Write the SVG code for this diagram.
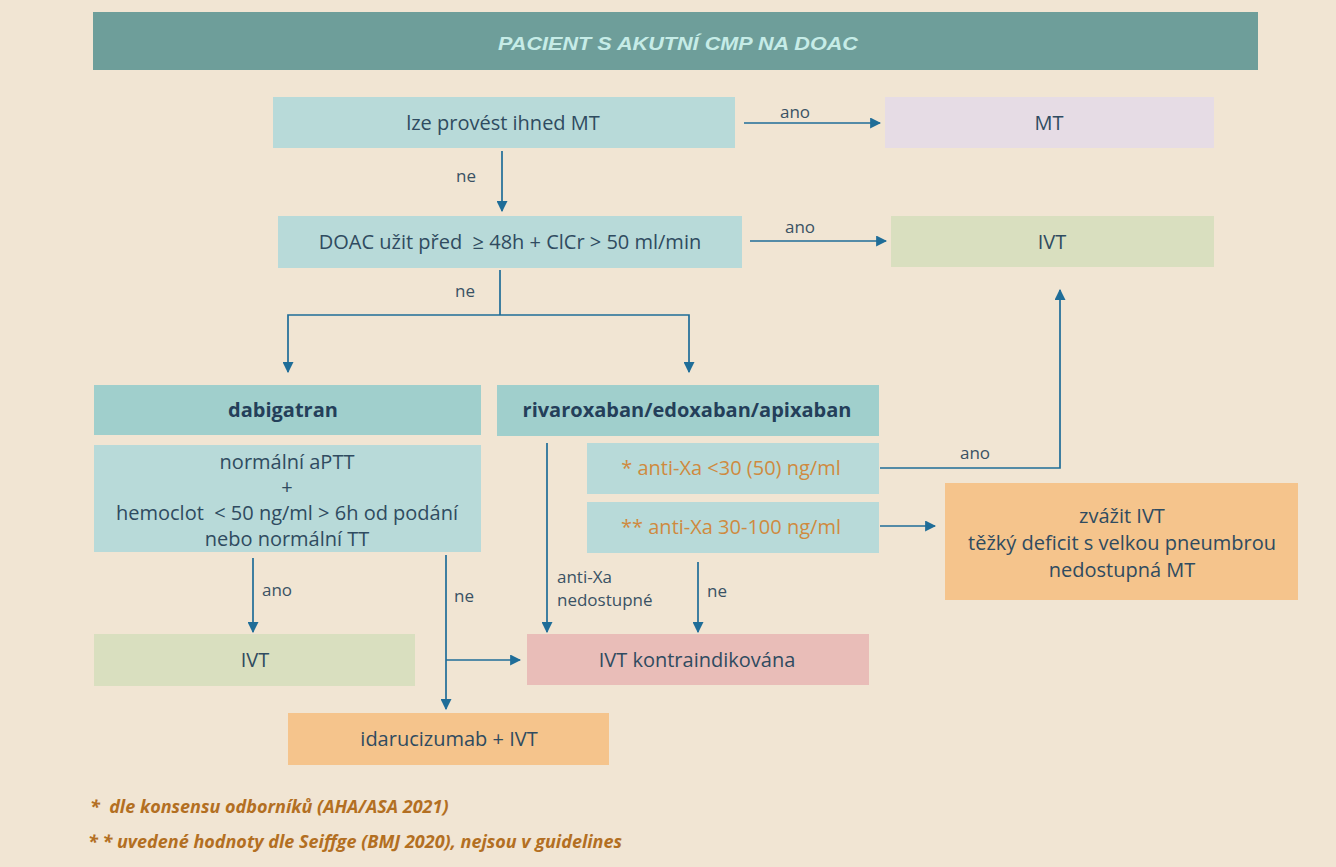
<svg xmlns="http://www.w3.org/2000/svg" width="1336" height="867" viewBox="0 0 1336 867">
<defs>
<marker id="ah" viewBox="0 0 10 10" refX="9" refY="5" markerWidth="11" markerHeight="11" markerUnits="userSpaceOnUse" orient="auto">
<path d="M0,0 L10,5 L0,10 z" fill="#1f6d98"/>
</marker>
</defs>
<style>
.t{font-family:"Open Sans","Liberation Sans",sans-serif;font-size:20px;fill:#2f4b60;text-anchor:middle;white-space:pre}
.b{font-weight:bold;fill:#243f5a}
.o{fill:#cf8a3f}
.l{font-family:"Open Sans","Liberation Sans",sans-serif;font-size:17px;fill:#3a5264}
.c{fill:none;stroke:#1f6d98;stroke-width:1.7}
.a{marker-end:url(#ah)}
.fn{font-family:"Open Sans","Liberation Sans",sans-serif;font-size:18px;font-style:italic;font-weight:bold;fill:#b36f22;white-space:pre}
.lt{fill:#b8dad9}
.dk{fill:#a0cfcc}
.gr{fill:#d9dfbf}
.or{fill:#f5c48c}
</style>
<rect x="0" y="0" width="1336" height="867" fill="#f1e5d3"/>
<g id="header">
<rect x="93" y="12" width="1165" height="58" fill="#6e9e9a"/>
<text x="678" y="50" font-family="Liberation Sans,sans-serif" font-size="18" font-style="italic" font-weight="bold" fill="#c6ece7" text-anchor="middle" textLength="360" lengthAdjust="spacingAndGlyphs">PACIENT S AKUTNÍ CMP NA DOAC</text>
</g>
<g id="connectors">
<line class="c a" x1="744" y1="123" x2="880" y2="123"/>
<text class="l" x="795" y="118" text-anchor="middle">ano</text>
<line class="c a" x1="502" y1="151" x2="502" y2="211"/>
<text class="l" x="466" y="182" text-anchor="middle">ne</text>
<line class="c a" x1="750" y1="241" x2="886" y2="241"/>
<text class="l" x="800" y="233" text-anchor="middle">ano</text>
<polyline class="c" points="500,270 500,315"/>
<polyline class="c a" points="500,315 288,315 288,372"/>
<polyline class="c a" points="500,315 689,315 689,372"/>
<text class="l" x="465" y="297" text-anchor="middle">ne</text>
<polyline class="c a" points="880,468 1060,468 1060,290"/>
<text class="l" x="975" y="459" text-anchor="middle">ano</text>
<line class="c a" x1="880" y1="526" x2="935" y2="526"/>
<line class="c a" x1="547" y1="443" x2="547" y2="632"/>
<text class="l" x="557" y="583">anti-Xa</text>
<text class="l" x="557" y="606">nedostupné</text>
<line class="c a" x1="698" y1="562" x2="698" y2="632"/>
<text class="l" x="707" y="597">ne</text>
<line class="c a" x1="253" y1="558" x2="253" y2="632"/>
<text class="l" x="262" y="596">ano</text>
<line class="c a" x1="446" y1="555" x2="446" y2="709"/>
<line class="c a" x1="446" y1="660" x2="520" y2="660"/>
<text class="l" x="454" y="602">ne</text>
</g>
<g id="n-mt-q">
<rect class="lt" x="273" y="97" width="462" height="51"/>
<text class="t" x="503" y="130">lze provést ihned MT</text>
</g>
<g id="n-mt">
<rect x="885" y="97" width="329" height="51" fill="#e6dce5"/>
<text class="t" x="1049" y="130">MT</text>
</g>
<g id="n-doac">
<rect class="lt" x="278" y="216" width="464" height="52"/>
<text class="t" x="510" y="249">DOAC užit před  ≥ 48h + ClCr &gt; 50 ml/min</text>
</g>
<g id="n-ivt1">
<rect class="gr" x="891" y="216" width="323" height="51"/>
<text class="t" x="1052" y="249">IVT</text>
</g>
<g id="n-dabi">
<rect class="dk" x="94" y="385" width="387" height="50"/>
<text class="t b" x="283" y="417">dabigatran</text>
</g>
<g id="n-dabi-c">
<rect class="lt" x="94" y="445" width="387" height="107"/>
<text class="t" x="287" y="469">normální aPTT</text>
<text class="t" x="287" y="494">+</text>
<text class="t" x="287" y="520">hemoclot  &lt; 50 ng/ml &gt; 6h od podání</text>
<text class="t" x="287" y="546">nebo normální TT</text>
</g>
<g id="n-xa">
<rect class="dk" x="497" y="385" width="382" height="51"/>
<text class="t b" x="687" y="417">rivaroxaban/edoxaban/apixaban</text>
</g>
<g id="n-xa1">
<rect class="lt" x="587" y="443" width="292" height="51"/>
<text class="t o" x="731" y="475">* anti-Xa &lt;30 (50) ng/ml</text>
</g>
<g id="n-xa2">
<rect class="lt" x="587" y="502" width="292" height="51"/>
<text class="t o" x="731" y="534">** anti-Xa 30-100 ng/ml</text>
</g>
<g id="n-zvazit">
<rect class="or" x="945" y="483" width="353" height="117"/>
<text class="t" x="1122" y="523">zvážit IVT</text>
<text class="t" x="1122" y="550">těžký deficit s velkou pneumbrou</text>
<text class="t" x="1122" y="577">nedostupná MT</text>
</g>
<g id="n-ivt2">
<rect class="gr" x="94" y="634" width="321" height="52"/>
<text class="t" x="255" y="667">IVT</text>
</g>
<g id="n-kontra">
<rect x="527" y="634" width="342" height="51" fill="#e9bdb8"/>
<text class="t" x="697" y="667">IVT kontraindikována</text>
</g>
<g id="n-idaru">
<rect class="or" x="288" y="713" width="321" height="52"/>
<text class="t" x="449" y="746">idarucizumab + IVT</text>
</g>
<g id="footnotes">
<text class="fn" x="90" y="813">*  dle konsensu odborníků (AHA/ASA 2021)</text>
<text class="fn" x="88" y="848">* * uvedené hodnoty dle Seiffge (BMJ 2020), nejsou v guidelines</text>
</g>
</svg>
